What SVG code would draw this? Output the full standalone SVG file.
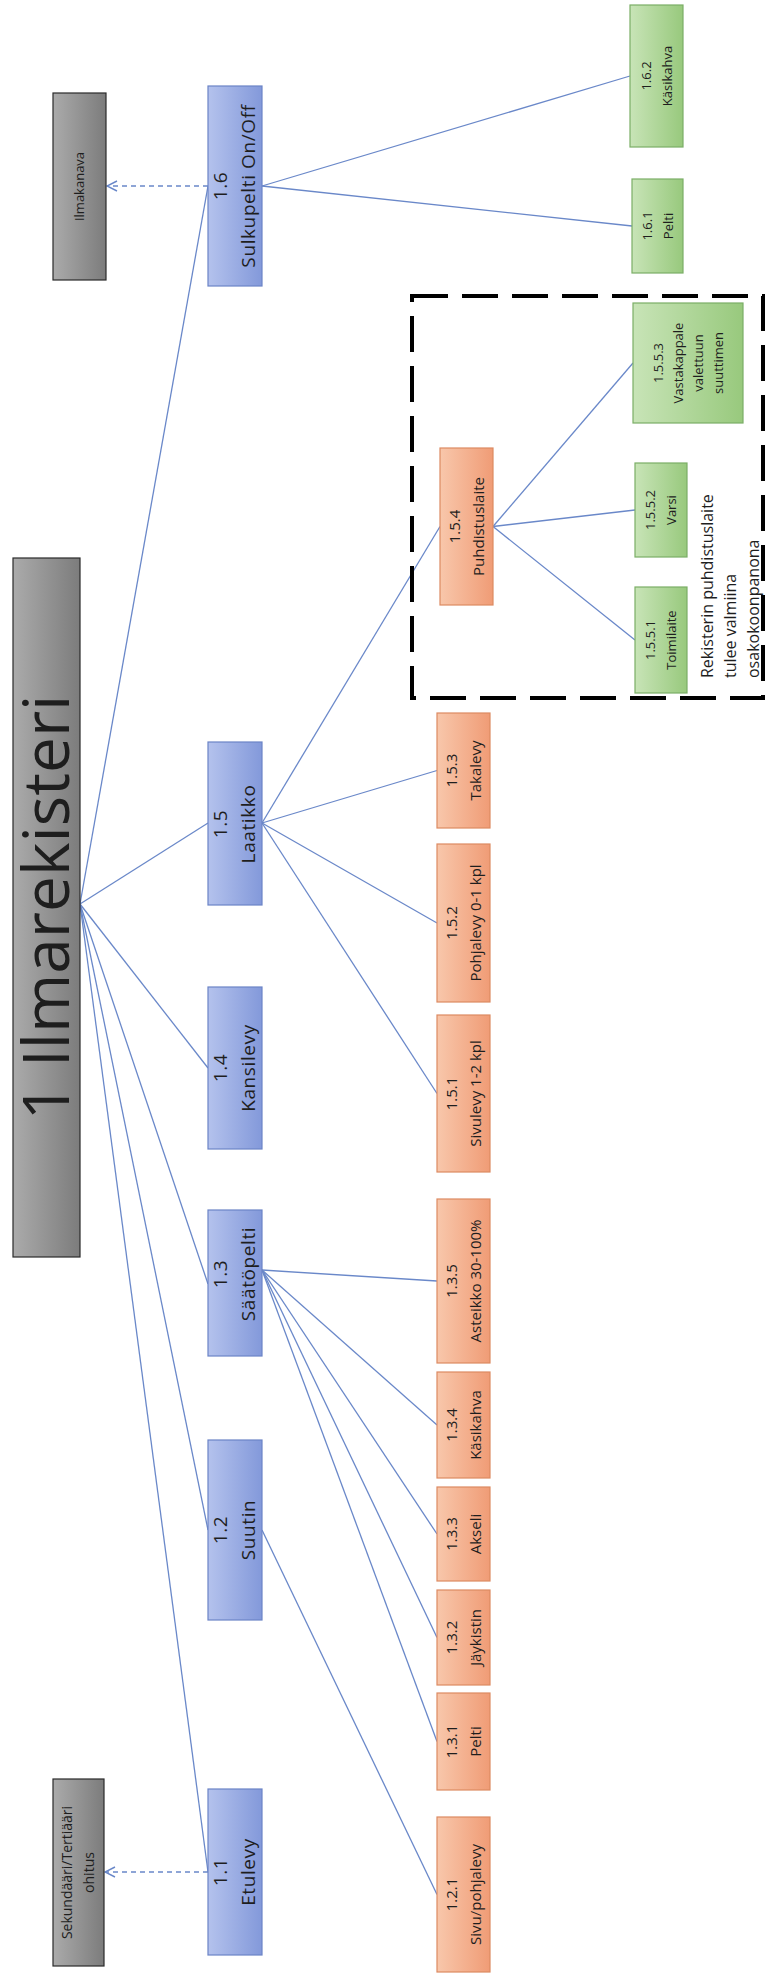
<svg xmlns="http://www.w3.org/2000/svg" width="767" height="1975" viewBox="0 0 767 1975">
  <defs>
    <linearGradient id="gGray" x1="0" y1="0" x2="1" y2="0">
      <stop offset="0" stop-color="#ababab"/>
      <stop offset="1" stop-color="#7c7c7c"/>
    </linearGradient>
    <linearGradient id="gBlue" x1="0" y1="0" x2="1" y2="0">
      <stop offset="0" stop-color="#b4c2ed"/>
      <stop offset="1" stop-color="#8399da"/>
    </linearGradient>
    <linearGradient id="gOrange" x1="0" y1="0" x2="1" y2="0">
      <stop offset="0" stop-color="#f8c7ab"/>
      <stop offset="1" stop-color="#f09c76"/>
    </linearGradient>
    <linearGradient id="gGreen" x1="0" y1="0" x2="1" y2="0">
      <stop offset="0" stop-color="#c8e4b7"/>
      <stop offset="1" stop-color="#98c97d"/>
    </linearGradient>
    <!-- open chevron, tip on the end of the line -->
    <marker id="openArrow" viewBox="0 0 12 12" refX="11" refY="6" markerWidth="12" markerHeight="12" markerUnits="userSpaceOnUse" orient="auto">
      <path d="M1,1 L11,6 L1,11" fill="none" stroke="#6a88c9" stroke-width="1.4"/>
    </marker>
  </defs>
  <style>
    .gray rect { fill: url(#gGray); stroke: #2a2a2a; stroke-width: 1.2; }
    .blue rect { fill: url(#gBlue); stroke: #6b84c6; stroke-width: 1.2; }
    .orange rect { fill: url(#gOrange); stroke: #dc8a62; stroke-width: 1.2; }
    .green rect { fill: url(#gGreen); stroke: #7bae66; stroke-width: 1.2; }
    text { font-family: "Open Sans", "Liberation Sans", sans-serif; fill: #1e1e1e; text-anchor: middle; }
    .t-root { font-size: 64px; }
    .t1 { font-size: 19px; letter-spacing: 0.6px; }
    .t2 { font-size: 15px; }
    .t3 { font-size: 13px; }
    .tg { font-size: 14px; }
    .note { font-size: 16px; text-anchor: start; }
    #connectors line { stroke: #6a88c9; stroke-width: 1.3; fill: none; }
    #connectors .dashed { stroke-dasharray: 5 4; marker-end: url(#openArrow); }
    #scope { fill: none; stroke: #000; stroke-width: 4; stroke-dasharray: 36 14; }
  </style>

  <rect width="767" height="1975" fill="#ffffff"/>

  <!-- connectors -->
  <g id="connectors">
    <line x1="80" y1="904" x2="208" y2="186"/>
    <line x1="80" y1="904" x2="208" y2="823"/>
    <line x1="80" y1="904" x2="208" y2="1068"/>
    <line x1="80" y1="904" x2="208" y2="1284"/>
    <line x1="80" y1="904" x2="208" y2="1530"/>
    <line x1="80" y1="904" x2="208" y2="1872"/>
    <line x1="262" y1="186" x2="630" y2="76"/>
    <line x1="262" y1="186" x2="632" y2="226"/>
    <line x1="262" y1="823" x2="440" y2="526.5"/>
    <line x1="262" y1="823" x2="437" y2="770.5"/>
    <line x1="262" y1="823" x2="437" y2="923"/>
    <line x1="262" y1="823" x2="437" y2="1093.5"/>
    <line x1="493" y1="526.5" x2="633" y2="363"/>
    <line x1="493" y1="526.5" x2="635" y2="510"/>
    <line x1="493" y1="526.5" x2="635" y2="640"/>
    <line x1="262" y1="1270" x2="437" y2="1281"/>
    <line x1="262" y1="1270" x2="437" y2="1425"/>
    <line x1="262" y1="1270" x2="437" y2="1534"/>
    <line x1="262" y1="1270" x2="437" y2="1637.5"/>
    <line x1="262" y1="1270" x2="437" y2="1741.5"/>
    <line x1="262" y1="1530" x2="437" y2="1894.5"/>
    <line class="dashed" x1="208" y1="186" x2="107" y2="186"/>
    <line class="dashed" x1="208" y1="1872" x2="105" y2="1872"/>
  </g>

  <!-- scope frame around the cleaning unit -->
  <rect id="scope" x="412" y="296" width="351" height="402"/>

  <!-- root -->
  <g id="n1" class="gray">
    <rect x="13" y="558" width="67" height="699"/>
    <text class="t-root" transform="translate(46.5,907.5) rotate(-90)" y="22">1 Ilmarekisteri</text>
  </g>

  <!-- external references -->
  <g id="ilmakanava" class="gray">
    <rect x="53" y="93" width="53" height="187"/>
    <text class="t3" transform="translate(79.5,186.5) rotate(-90)" y="4.5">Ilmakanava</text>
  </g>
  <g id="ohitus" class="gray">
    <rect x="53" y="1779" width="51" height="187"/>
    <text class="tg" transform="translate(78.5,1872.5) rotate(-90)"><tspan x="0" y="-6.3">Sekundääri/Tertiääri</tspan><tspan x="0" y="15.7">ohitus</tspan></text>
  </g>

  <!-- level 1 -->
  <g id="n1-6" class="blue">
    <rect x="208" y="86" width="54" height="200"/>
    <text class="t1" transform="translate(235,186) rotate(-90)"><tspan x="0" y="-8">1.6</tspan><tspan x="0" y="20">Sulkupelti On/Off</tspan></text>
  </g>
  <g id="n1-5" class="blue">
    <rect x="208" y="742" width="54" height="163"/>
    <text class="t1" transform="translate(235,824) rotate(-90)"><tspan x="0" y="-8">1.5</tspan><tspan x="0" y="20">Laatikko</tspan></text>
  </g>
  <g id="n1-4" class="blue">
    <rect x="208" y="987" width="54" height="162"/>
    <text class="t1" transform="translate(235,1068) rotate(-90)"><tspan x="0" y="-8">1.4</tspan><tspan x="0" y="20">Kansilevy</tspan></text>
  </g>
  <g id="n1-3" class="blue">
    <rect x="208" y="1210" width="54" height="146"/>
    <text class="t1" transform="translate(235,1274) rotate(-90)"><tspan x="0" y="-8">1.3</tspan><tspan x="0" y="20">Säätöpelti</tspan></text>
  </g>
  <g id="n1-2" class="blue">
    <rect x="208" y="1440" width="54" height="180"/>
    <text class="t1" transform="translate(235,1530) rotate(-90)"><tspan x="0" y="-8">1.2</tspan><tspan x="0" y="20">Suutin</tspan></text>
  </g>
  <g id="n1-1" class="blue">
    <rect x="208" y="1789" width="54" height="166"/>
    <text class="t1" transform="translate(235,1872) rotate(-90)"><tspan x="0" y="-8">1.1</tspan><tspan x="0" y="20">Etulevy</tspan></text>
  </g>

  <!-- level 2 -->
  <g id="n1-5-4" class="orange">
    <rect x="440" y="448" width="53" height="157"/>
    <text class="t2" transform="translate(466.5,526.5) rotate(-90)"><tspan x="0" y="-7">1.5.4</tspan><tspan x="0" y="17">Puhdistuslaite</tspan></text>
  </g>
  <g id="n1-5-3" class="orange">
    <rect x="437" y="713" width="53" height="115"/>
    <text class="t2" transform="translate(463.5,770.5) rotate(-90)"><tspan x="0" y="-7">1.5.3</tspan><tspan x="0" y="17">Takalevy</tspan></text>
  </g>
  <g id="n1-5-2" class="orange">
    <rect x="437" y="844" width="53" height="158"/>
    <text class="t2" transform="translate(463.5,923) rotate(-90)"><tspan x="0" y="-7">1.5.2</tspan><tspan x="0" y="17">Pohjalevy 0-1 kpl</tspan></text>
  </g>
  <g id="n1-5-1" class="orange">
    <rect x="437" y="1015" width="53" height="157"/>
    <text class="t2" transform="translate(463.5,1093.5) rotate(-90)"><tspan x="0" y="-7">1.5.1</tspan><tspan x="0" y="17">Sivulevy 1-2 kpl</tspan></text>
  </g>
  <g id="n1-3-5" class="orange">
    <rect x="437" y="1199" width="53" height="164"/>
    <text class="t2" transform="translate(463.5,1281) rotate(-90)"><tspan x="0" y="-7">1.3.5</tspan><tspan x="0" y="17">Asteikko 30-100%</tspan></text>
  </g>
  <g id="n1-3-4" class="orange">
    <rect x="437" y="1372" width="53" height="106"/>
    <text class="t2" transform="translate(463.5,1425) rotate(-90)"><tspan x="0" y="-7">1.3.4</tspan><tspan x="0" y="17">Käsikahva</tspan></text>
  </g>
  <g id="n1-3-3" class="orange">
    <rect x="437" y="1487" width="53" height="94"/>
    <text class="t2" transform="translate(463.5,1534) rotate(-90)"><tspan x="0" y="-7">1.3.3</tspan><tspan x="0" y="17">Akseli</tspan></text>
  </g>
  <g id="n1-3-2" class="orange">
    <rect x="437" y="1590" width="53" height="95"/>
    <text class="t2" transform="translate(463.5,1637.5) rotate(-90)"><tspan x="0" y="-7">1.3.2</tspan><tspan x="0" y="17">Jäykistin</tspan></text>
  </g>
  <g id="n1-3-1" class="orange">
    <rect x="437" y="1693" width="53" height="97"/>
    <text class="t2" transform="translate(463.5,1741.5) rotate(-90)"><tspan x="0" y="-7">1.3.1</tspan><tspan x="0" y="17">Pelti</tspan></text>
  </g>
  <g id="n1-2-1" class="orange">
    <rect x="437" y="1817" width="53" height="155"/>
    <text class="t2" transform="translate(463.5,1894.5) rotate(-90)"><tspan x="0" y="-7">1.2.1</tspan><tspan x="0" y="17">Sivu/pohjalevy</tspan></text>
  </g>

  <!-- level 3 -->
  <g id="n1-6-2" class="green">
    <rect x="630" y="5" width="53" height="142"/>
    <text class="t3" transform="translate(656.5,76) rotate(-90)"><tspan x="0" y="-6">1.6.2</tspan><tspan x="0" y="15">Käsikahva</tspan></text>
  </g>
  <g id="n1-6-1" class="green">
    <rect x="632" y="179" width="51" height="94"/>
    <text class="t3" transform="translate(657.5,226) rotate(-90)"><tspan x="0" y="-6">1.6.1</tspan><tspan x="0" y="15">Pelti</tspan></text>
  </g>
  <g id="n1-5-5-3" class="green">
    <rect x="633" y="303" width="110" height="120"/>
    <text class="t3" transform="translate(688,363) rotate(-90)"><tspan x="0" y="-25.5">1.5.5.3</tspan><tspan x="0" y="-5.5">Vastakappale</tspan><tspan x="0" y="14.5">valettuun</tspan><tspan x="0" y="34.5">suuttimen</tspan></text>
  </g>
  <g id="n1-5-5-2" class="green">
    <rect x="635" y="463" width="52" height="94"/>
    <text class="t3" transform="translate(661,510) rotate(-90)"><tspan x="0" y="-6">1.5.5.2</tspan><tspan x="0" y="15">Varsi</tspan></text>
  </g>
  <g id="n1-5-5-1" class="green">
    <rect x="635" y="587" width="52" height="106"/>
    <text class="t3" transform="translate(661,640) rotate(-90)"><tspan x="0" y="-6">1.5.5.1</tspan><tspan x="0" y="15">Toimilaite</tspan></text>
  </g>

  <!-- note inside the frame -->
  <text class="note" transform="translate(730,678) rotate(-90)"><tspan x="0" y="-17.5">Rekisterin puhdistuslaite</tspan><tspan x="0" y="5.5">tulee valmiina</tspan><tspan x="0" y="28.5">osakokoonpanona</tspan></text>
</svg>
